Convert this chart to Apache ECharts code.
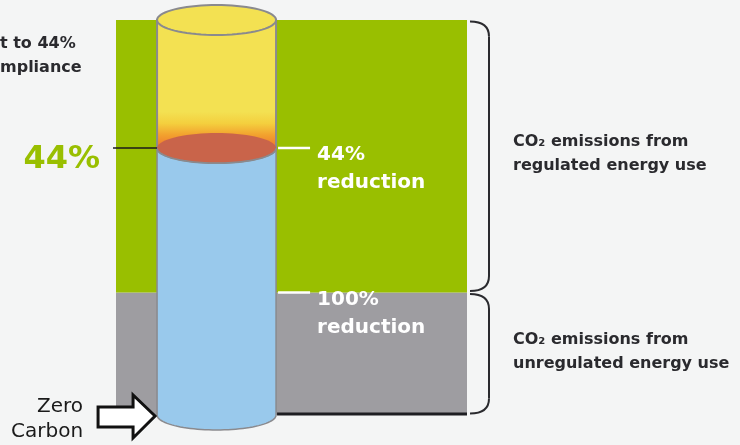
<!DOCTYPE html>
<html><head><meta charset="utf-8">
<script src="https://cdn.jsdelivr.net/npm/echarts@6/dist/echarts.min.js"></script>
<style>html,body{margin:0;padding:0;background:#f4f5f5}#c{width:740px;height:445px}</style>
</head><body><div id="c"></div>
<script>
// ---- data ----
const segmentNames = ['Unregulated', 'Regulated'];
const segmentValues = [45, 100];              // relative CO2 emissions
const segmentColors = ['#9e9da1', '#99bf00'];
const segmentLabels = ['CO\u2082 emissions from\nunregulated energy use', 'CO\u2082 emissions from\nregulated energy use'];
const targetLevels = [98, 45];                // remaining emissions at each target
const targetLabels = ['44%\nreduction', '100%\nreduction'];
const complianceLabel = '44%';
const cylinderLevels = [0, 98, 145];          // bottom, fill level, top
const introLines = ['t to 44%', 'mpliance'];
const zeroLevel = [0];
const zeroLabel = 'Zero\nCarbon';

const FONT = 'DejaVu Sans';
const DARK = '#2a2a2e';
const CYL_L = 0.117, CYL_R = 0.456, RY = 15;

function ellipsePts(cx, cy, rx, ry, t0, t1, n) {
  const pts = [];
  for (let k = 0; k <= n; k++) {
    const t = t0 + (t1 - t0) * k / n;
    pts.push([cx + rx * Math.cos(t), cy + ry * Math.sin(t)]);
  }
  return pts;
}
function cylX(cs) { return [cs.x + cs.width * CYL_L, cs.x + cs.width * CYL_R]; }

// stack boundaries for braces
const segData = [];
let acc = 0;
segmentValues.forEach((v, i) => { segData.push([0, acc, acc + v, i]); acc += v; });

const chart = echarts.init(document.getElementById('c'), null, {renderer: 'canvas'});

const barSeries = segmentNames.map((n, i) => ({
  name: n, type: 'bar', stack: 'e', data: [segmentValues[i]],
  barWidth: '100%', itemStyle: {color: segmentColors[i]}, z: 1, silent: true
}));

const option = {
  backgroundColor: '#f4f5f5',
  animation: false,
  grid: {left: 116, right: 273, top: 20, bottom: 30},
  xAxis: {type: 'category', data: ['CO2'], show: false, boundaryGap: true},
  yAxis: {type: 'value', min: 0, max: 145, show: false},
  graphic: introLines.map((t, i) => ({
    type: 'text', x: 0, y: 44 + i * 24,
    style: {text: t, fill: DARK, fontFamily: FONT, fontWeight: 'bold', fontSize: 16, verticalAlign: 'middle'}
  })),
  series: barSeries.concat([
    { // cylinder
      type: 'custom', z: 3, silent: true,
      data: [[0, cylinderLevels[0], cylinderLevels[1], cylinderLevels[2]]],
      renderItem: function (params, api) {
        const cs = params.coordSys;
        const [xs, xe] = cylX(cs);
        const cx = (xs + xe) / 2, rx = (xe - xs) / 2;
        const yB = api.coord([0, api.value(1)])[1];
        const yM = api.coord([0, api.value(2)])[1];
        const yT = api.coord([0, api.value(3)])[1];
        const grey = '#8a8a8e';
        return {type: 'group', children: [
          {type: 'polygon', shape: {points: [[xs, yM]].concat(ellipsePts(cx, yB, rx, RY, Math.PI, 0, 48)).concat([[xe, yM]])},
           style: {fill: '#99c9ec', stroke: grey, lineWidth: 1.5}},
          {type: 'polygon', shape: {points: [[xs, yT]].concat(ellipsePts(cx, yM, rx, RY, Math.PI, 0, 48)).concat([[xe, yT]])},
           style: {fill: new echarts.graphic.LinearGradient(0, 0, 0, 1, [
              {offset: 0, color: '#f3e152'}, {offset: 0.64, color: '#f3e152'},
              {offset: 0.72, color: '#f4cf3e'}, {offset: 0.8, color: '#f2a12e'},
              {offset: 0.88, color: '#ef7a2e'}, {offset: 1, color: '#e8683a'}]),
             stroke: grey, lineWidth: 2}},
          {type: 'polygon', shape: {points: ellipsePts(cx, yM, rx, RY, 0, Math.PI * 2, 72)},
           style: {fill: '#c9644a'}},
          {type: 'polyline', shape: {points: ellipsePts(cx, yM, rx, RY, Math.PI, 0, 48)},
           style: {fill: null, stroke: grey, lineWidth: 1.5}},
          {type: 'polygon', shape: {points: ellipsePts(cx, yT, rx, RY, 0, Math.PI * 2, 72)},
           style: {fill: '#f3e152', stroke: grey, lineWidth: 2}},
          {type: 'line', shape: {x1: cs.x - 3, y1: yM, x2: xs, y2: yM}, style: {stroke: '#1a1a1a', lineWidth: 1.5}},
          {type: 'text', style: {text: complianceLabel, x: cs.x - 16, y: yM + 12, align: 'right', verticalAlign: 'middle',
            fill: '#99bf00', fontFamily: FONT, fontWeight: 'bold', fontSize: 32}},
          {type: 'line', shape: {x1: xe + 1, y1: yB - 1, x2: cs.x + cs.width, y2: yB - 1}, style: {stroke: '#1e1e22', lineWidth: 3}}
        ]};
      }
    },
    { // reduction targets
      type: 'custom', z: 4, silent: true,
      data: targetLevels.map((v, i) => [0, v, i]),
      renderItem: function (params, api) {
        const cs = params.coordSys;
        const xe = cylX(cs)[1];
        const y = api.coord([0, api.value(1)])[1];
        return {type: 'group', children: [
          {type: 'line', shape: {x1: xe + 2, y1: y, x2: xe + 34, y2: y}, style: {stroke: '#ffffff', lineWidth: 2.5}},
          {type: 'text', style: {text: targetLabels[api.value(2)], x: xe + 41, y: y - 7, align: 'left', verticalAlign: 'top',
            lineHeight: 28, fill: '#ffffff', fontFamily: FONT, fontWeight: 'bold', fontSize: 20}}
        ]};
      }
    },
    { // braces + labels
      type: 'custom', z: 4, silent: true,
      data: segData,
      renderItem: function (params, api) {
        const cs = params.coordSys;
        const y0 = api.coord([0, api.value(2)])[1] + 1.5;
        const y1 = api.coord([0, api.value(1)])[1] - 1.5;
        const x0 = cs.x + cs.width + 3, x1 = x0 + 19;
        const st = {stroke: DARK, lineWidth: 2, fill: null};
        return {type: 'group', children: [
          {type: 'bezierCurve', shape: {x1: x0, y1: y0, cpx1: x0 + 12, cpy1: y0, cpx2: x1, cpy2: y0 + 5, x2: x1, y2: y0 + 15}, style: st},
          {type: 'line', shape: {x1: x1, y1: y0 + 15, x2: x1, y2: y1 - 15}, style: st},
          {type: 'bezierCurve', shape: {x1: x1, y1: y1 - 15, cpx1: x1, cpy1: y1 - 5, cpx2: x0 + 12, cpy2: y1, x2: x0, y2: y1}, style: st},
          {type: 'text', style: {text: segmentLabels[api.value(3)], x: x0 + 43, y: (y0 + y1) / 2 - 2, align: 'left', verticalAlign: 'middle',
            lineHeight: 24, fill: DARK, fontFamily: FONT, fontWeight: 'bold', fontSize: 16}}
        ]};
      }
    },
    { // zero carbon arrow
      type: 'custom', z: 5, silent: true,
      data: zeroLevel.map(v => [0, v]),
      renderItem: function (params, api) {
        const cs = params.coordSys;
        const tx = cylX(cs)[0] - 2;
        const ty = api.coord([0, api.value(1)])[1] + 1;
        return {type: 'group', children: [
          {type: 'polygon', shape: {points: [[tx, ty], [tx - 22, ty - 21], [tx - 22, ty - 9], [tx - 57, ty - 9], [tx - 57, ty + 11], [tx - 22, ty + 11], [tx - 22, ty + 22]]},
           style: {fill: '#ffffff', stroke: '#111111', lineWidth: 3, lineJoin: 'miter'}},
          {type: 'text', style: {text: zeroLabel, x: tx - 72, y: ty + 3, align: 'right', verticalAlign: 'middle',
            lineHeight: 25, fill: '#1a1a1a', fontFamily: FONT, fontSize: 20}}
        ]};
      }
    }
  ])
};
chart.setOption(option);
</script></body></html>
